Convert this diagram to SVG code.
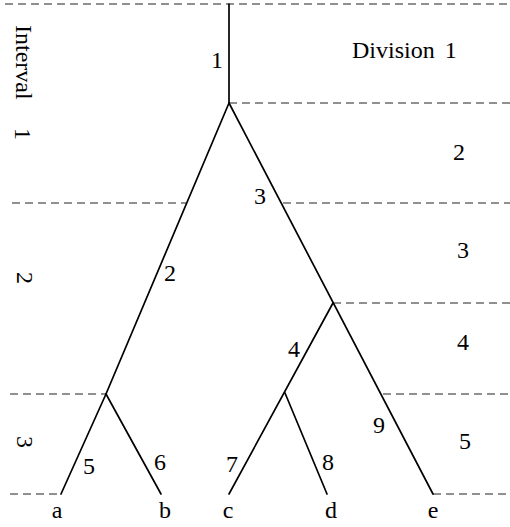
<svg xmlns="http://www.w3.org/2000/svg" width="510" height="527" viewBox="0 0 510 527">
<style>
text{font-family:"Liberation Serif","Times New Roman",serif;font-size:24px;fill:#000}
.m{text-anchor:middle}
.d{stroke:#222;stroke-width:1;stroke-dasharray:8 5;fill:none}
.b{stroke:#000;stroke-width:1.7;fill:none;stroke-linecap:round;stroke-linejoin:round}
</style>
<g id="grid">
<line class="d" x1="5" y1="4" x2="510" y2="4"/>
<line class="d" x1="229" y1="103" x2="510" y2="103"/>
<line class="d" x1="12" y1="203" x2="186" y2="203"/>
<line class="d" x1="283" y1="203" x2="510" y2="203"/>
<line class="d" x1="333" y1="303" x2="510" y2="303"/>
<line class="d" x1="10" y1="394" x2="106" y2="394"/>
<line class="d" x1="383" y1="394" x2="510" y2="394"/>
<line class="d" x1="10" y1="494" x2="60" y2="494"/>
<line class="d" x1="433" y1="494" x2="510" y2="494"/>
</g>
<g id="intervals">
<text transform="translate(16,25) rotate(90)">Interval</text>
<text class="m" transform="translate(15,134) rotate(90)">1</text>
<text class="m" transform="translate(17,278) rotate(90)">2</text>
<text class="m" transform="translate(17,442) rotate(90)">3</text>
</g>
<g id="divisions">
<text x="352" y="58">Division<tspan dx="10">1</tspan></text>
<text class="m" x="459" y="160">2</text>
<text class="m" x="463" y="258">3</text>
<text class="m" x="463" y="350">4</text>
<text class="m" x="465" y="449">5</text>
</g>
<g id="connectors">
<path class="b" d="M229,4 L229,103"/>
<path class="b" d="M229,103 L106,394"/>
<path class="b" d="M229,103 L433,494"/>
<path class="b" d="M106,394 L61,494"/>
<path class="b" d="M106,394 L161,494"/>
<path class="b" d="M333,303 L229,494"/>
<path class="b" d="M285,393 L327,494"/>
<text class="m" x="217" y="68">1</text>
<text class="m" x="170" y="281">2</text>
<text class="m" x="260" y="204">3</text>
<text class="m" x="294" y="357">4</text>
<text class="m" x="89" y="474">5</text>
<text class="m" x="160" y="470">6</text>
<text class="m" x="232" y="472">7</text>
<text class="m" x="328" y="470">8</text>
<text class="m" x="379" y="433">9</text>
</g>
<g id="leaf-a"><text class="m" x="57" y="518">a</text></g>
<g id="leaf-b"><text class="m" x="165" y="518">b</text></g>
<g id="leaf-c"><text class="m" x="228" y="518">c</text></g>
<g id="leaf-d"><text class="m" x="331" y="518">d</text></g>
<g id="leaf-e"><text class="m" x="433" y="518">e</text></g>
</svg>
